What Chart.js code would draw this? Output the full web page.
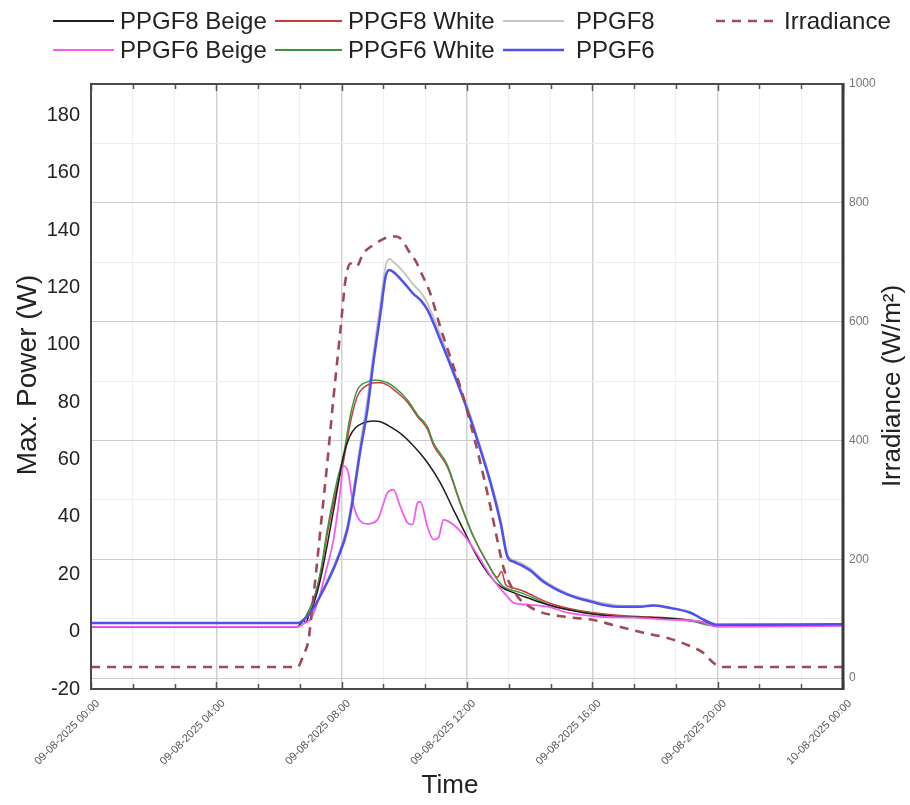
<!DOCTYPE html>
<html>
<head>
<meta charset="utf-8">
<title>Max. Power and Irradiance</title>
<script src="https://cdn.jsdelivr.net/npm/chart.js@4.4.1/dist/chart.umd.min.js"></script>
<style>
  html, body { margin: 0; padding: 0; background: #fff; }
  #wrap { position: relative; width: 910px; height: 805px; }
  #legend { position: absolute; left: 0; top: 0; width: 910px; height: 80px;
            font-family: "Liberation Sans", Arial, sans-serif; font-size: 24px; color: #222; }
  .item { position: absolute; height: 30px; display: flex; align-items: center; white-space: nowrap; }
  .item svg { display: block; }
  .item span { position: absolute; line-height: 30px; }
</style>
</head>
<body>
<div id="wrap">
  <canvas id="c" width="910" height="805"></canvas>
  <div id="legend"></div>
</div>
<script>
// ---- Time axis (hours from 09-08-2025 00:00) ----
const xTickLabels = ['09-08-2025 00:00', '09-08-2025 04:00', '09-08-2025 08:00', '09-08-2025 12:00',
                     '09-08-2025 16:00', '09-08-2025 20:00', '10-08-2025 00:00'];
const leftTicks = [-20, 0, 20, 40, 60, 80, 100, 120, 140, 160, 180];
const rightTicks = [0, 100, 200, 300, 400, 500, 600, 700, 800, 900, 1000];

// ---- PPGF8 Beige (W) ----
const hoursPPGF8Beige = [0, 6.59, 6.78, 6.86, 6.95, 7.1, 7.32, 7.54, 7.86, 8.05, 8.25, 8.44, 8.69, 9.01, 9.24, 9.56, 9.97,
  10.29, 10.74, 11.15, 11.57, 11.89, 12.33, 12.75, 13.07, 13.48, 13.93, 14.66, 15.72, 16.8, 17.86, 18.91, 19.67, 20.0, 24];
const ppgf8Beige = [1.7, 1.7, 4.2, 3.2, 5.6, 9.4, 18.1, 30.3, 49.5, 61, 67.9, 71.1, 72.8, 73.5, 73.2, 71.4, 68.3,
  64.8, 58.9, 51.9, 42.5, 35.5, 26.1, 19.2, 15.7, 13.6, 11.8, 9.1, 6.6, 5.2, 4.9, 4.2, 3.1, 2.1, 2.4];

// ---- PPGF8 White (W) ----
const hoursPPGF8White = [0, 6.59, 6.84, 7.1, 7.32, 7.54, 7.86, 8.05, 8.28, 8.5, 8.82, 9.08, 9.24, 9.46, 9.71, 10.1, 10.42,
  10.74, 10.93, 11.37, 11.79, 12.21, 12.65, 12.97, 13.1, 13.23, 13.39, 13.71, 14.12, 14.66, 15.21, 16.04, 16.9, 17.86,
  18.72, 19.23, 19.87, 24];
const ppgf8White = [1.7, 1.7, 5, 11, 20, 34, 51, 59, 73, 82, 86, 86.8, 86.8, 86, 84, 80, 75,
  70.5, 65, 57.5, 44.5, 33, 24, 19, 21, 16.5, 15.5, 14.5, 12.5, 9.8, 8.2, 6.6, 5.6, 5.1,
  4.5, 3.8, 2.2, 2.4];

// ---- PPGF8 (W) ----
const hoursPPGF8 = [0, 6.59, 7.0, 7.42, 7.86, 8.18, 8.37, 8.6, 8.82, 9.01, 9.24, 9.4, 9.52, 9.65, 9.97, 10.29, 10.51,
  10.74, 11.15, 11.57, 12.01, 12.43, 12.75, 13.07, 13.29, 13.48, 13.71, 14.02, 14.44, 15.21, 15.94, 16.8, 17.54, 17.95,
  18.4, 19.13, 19.55, 19.99, 24];
const ppgf8 = [3.0, 3.0, 6.8, 15, 26, 37, 49, 66, 81, 97, 115, 127.5, 130, 129, 125.5, 121, 118.5,
  114.5, 103.5, 91.5, 78.5, 64.5, 53, 39.5, 27, 25, 24, 22, 18, 13.4, 11, 9.2, 9, 9.3,
  8.6, 6.8, 4.4, 2.5, 2.7];

// ---- PPGF6 Beige (W) ----
const hoursPPGF6Beige = [0, 6.59, 6.84, 7.0, 7.26, 7.51, 7.74, 7.96, 8.05, 8.21, 8.34, 8.5, 8.82, 9.14, 9.46, 9.65, 9.87,
  10.1, 10.26, 10.42, 10.51, 10.74, 10.93, 11.09, 11.25, 11.57, 12.01, 12.43, 12.84, 13.29, 13.48, 13.93, 14.57, 15.21,
  16.26, 17.31, 18.4, 19.45, 19.99, 24];
const ppgf6Beige = [1.7, 1.7, 3.1, 4.2, 11.1, 21.6, 32.1, 49.5, 57.8, 55.4, 46, 40.1, 37.6, 39, 48.4, 49.5, 43.6,
  38, 37.3, 44.9, 45.3, 36.6, 32.1, 32.8, 39, 37.3, 32.1, 25.1, 18.1, 12.2, 10.1, 9.4, 8.7, 6.6,
  5.2, 4.9, 4.2, 3.5, 1.7, 2.0];

// ---- PPGF6 White (W) ----
const hoursPPGF6White = [0, 6.59, 6.84, 7.1, 7.32, 7.54, 7.86, 8.05, 8.28, 8.5, 8.82, 9.08, 9.24, 9.46, 9.71, 10.1, 10.42,
  10.74, 10.93, 11.37, 11.79, 12.21, 12.65, 12.97, 13.16, 13.39, 13.71, 14.12, 14.66, 15.21, 16.04, 16.9, 17.86, 18.72,
  19.23, 19.87, 24];
const ppgf6White = [1.7, 1.7, 4.9, 11.1, 20.6, 35.5, 53, 61, 75.6, 84.3, 87.1, 87.8, 87.5, 86.8, 85, 80.8, 75.6,
  71.4, 65.9, 58.2, 44.9, 33.1, 24, 18.1, 15.7, 14.6, 13.6, 11.8, 9.1, 7.7, 6.3, 5.2, 4.9, 4.2,
  3.5, 2.1, 2.3];

// ---- PPGF6 (W) ----
const hoursPPGF6 = [0, 6.59, 7.0, 7.42, 7.86, 8.18, 8.37, 8.6, 8.82, 9.01, 9.24, 9.4, 9.52, 9.65, 9.97, 10.29, 10.51,
  10.74, 11.15, 11.57, 12.01, 12.43, 12.75, 13.07, 13.29, 13.48, 13.71, 14.02, 14.44, 15.21, 15.94, 16.8, 17.54, 17.95,
  18.4, 19.13, 19.55, 19.99, 24];
const ppgf6 = [3.0, 3.0, 6.6, 14.6, 25.1, 35.5, 47, 63.4, 77.4, 93.7, 111.1, 123.7, 126.1, 125.4, 121.9, 117.8, 115.7,
  112.2, 101.7, 90.2, 77.4, 63.4, 51.9, 38, 26.1, 24.4, 23.3, 21.3, 17.4, 12.9, 10.5, 8.7, 8.7, 9.1,
  8.4, 6.6, 4.2, 2.4, 2.6];

// ---- Irradiance (W/m²) ----
const hoursIrradiance = [0, 6.59, 6.78, 6.94, 7.07, 7.19, 7.32, 7.54, 7.74, 7.96, 8.12, 8.28, 8.47, 8.69, 8.98, 9.24,
  9.56, 9.75, 9.94, 10.13, 10.35, 10.58, 10.83, 11.15, 11.47, 11.79, 12.11, 12.43, 12.75, 12.97, 13.16, 13.39, 13.71,
  14.02, 14.34, 15.21, 16.04, 16.67, 17.54, 18.4, 19.04, 19.55, 19.87, 20.09, 24];
const irradiance = [18.5, 18.5, 38.7, 63.9, 122.7, 181.6, 248.9, 361.5, 472.5, 585.2, 669.2, 697.8, 692.8, 714.7, 728, 736.5,
  743.2, 743.2, 736.5, 719.7, 702.9, 677.6, 647.4, 590.3, 539.8, 489.3, 428.8, 361.5, 287.5, 232, 186.6, 156.4, 131.2,
  119.4, 111, 102.6, 97.5, 89.1, 77.3, 67.3, 55.5, 42, 25.2, 18.5, 18.5];

const toPoints = (xs, ys) => xs.map((x, i) => ({ x: x, y: ys[i] }));

const series = [
  { label: 'PPGF8 Beige', xs: hoursPPGF8Beige, ys: ppgf8Beige, color: '#1e1e1e', width: 1.5, order: 3 },
  { label: 'PPGF8 White', xs: hoursPPGF8White, ys: ppgf8White, color: '#c83c3c', width: 1.5, order: 5 },
  { label: 'PPGF8',       xs: hoursPPGF8,      ys: ppgf8,      color: '#c4c4c4', width: 1.8, order: 6 },
  { label: 'Irradiance',  xs: hoursIrradiance, ys: irradiance, color: '#a04a58', width: 2.6, order: 0, dash: [9, 7], axis: 'y2' },
  { label: 'PPGF6 Beige', xs: hoursPPGF6Beige, ys: ppgf6Beige, color: '#f25cf2', width: 1.8, order: 2 },
  { label: 'PPGF6 White', xs: hoursPPGF6White, ys: ppgf6White, color: '#3f953f', width: 1.5, order: 4 },
  { label: 'PPGF6',       xs: hoursPPGF6,      ys: ppgf6,      color: '#4f4ff2', width: 2.5, order: 1 }
];

const datasets = series.map(s => ({
  label: s.label,
  data: toPoints(s.xs, s.ys),
  borderColor: s.color,
  backgroundColor: s.color,
  borderWidth: s.width,
  borderDash: s.dash || [],
  yAxisID: s.axis || 'y',
  order: s.order,
  pointRadius: 0,
  fill: false,
  cubicInterpolationMode: 'monotone'
}));

// Axis frame, inner tick marks and the three axis titles
const framePlugin = {
  id: 'frame',
  afterDraw(chart) {
    const { ctx, chartArea: a, scales } = chart;
    ctx.save();
    // inner tick marks on top and bottom edges
    ctx.strokeStyle = '#555';
    ctx.lineWidth = 1.5;
    scales.x.ticks.forEach((t, i) => {
      const px = Math.round(scales.x.getPixelForValue(t.value)) + 0.5;
      const len = i % 3 === 0 ? 7 : 5;
      ctx.beginPath();
      ctx.moveTo(px, a.top); ctx.lineTo(px, a.top + len);
      ctx.moveTo(px, a.bottom); ctx.lineTo(px, a.bottom - len);
      ctx.stroke();
    });
    // frame
    ctx.strokeStyle = '#4a4a4a';
    ctx.lineWidth = 2;
    ctx.beginPath();
    ctx.moveTo(a.right, a.top); ctx.lineTo(a.left, a.top);
    ctx.lineTo(a.left, a.bottom); ctx.lineTo(a.right, a.bottom);
    ctx.stroke();
    ctx.lineWidth = 3;
    ctx.strokeStyle = '#3a3a3a';
    ctx.beginPath();
    ctx.moveTo(a.right, a.top - 1); ctx.lineTo(a.right, a.bottom + 1);
    ctx.stroke();

    // titles
    ctx.fillStyle = '#222';
    ctx.textAlign = 'center';
    ctx.textBaseline = 'middle';
    ctx.save();
    ctx.font = '28px "Liberation Sans", Arial, sans-serif';
    ctx.translate(28, 375);
    ctx.rotate(-Math.PI / 2);
    ctx.fillText('Max. Power (W)', 0, 0);
    ctx.restore();
    ctx.save();
    ctx.font = '26px "Liberation Sans", Arial, sans-serif';
    ctx.translate(893, 386);
    ctx.rotate(-Math.PI / 2);
    ctx.fillText('Irradiance (W/m²)', 0, 0);
    ctx.restore();
    ctx.font = '26px "Liberation Sans", Arial, sans-serif';
    ctx.fillText('Time', 450, 786);
    ctx.restore();
  }
};

const chart = new Chart(document.getElementById('c'), {
  type: 'line',
  data: { datasets: datasets },
  options: {
    responsive: false,
    animation: false,
    layout: { padding: { top: 84, left: 0, right: 0, bottom: 0 } },
    plugins: { legend: { display: false }, tooltip: { enabled: false } },
    scales: {
      x: {
        type: 'linear', min: 0, max: 24,
        afterBuildTicks: s => { s.ticks = []; for (let i = 0; i <= 18; i++) s.ticks.push({ value: i * 4 / 3 }); },
        afterFit: s => { s.height = 116; },
        ticks: {
          autoSkip: false, minRotation: 45, maxRotation: 45, padding: 8, labelOffset: 7,
          color: '#555', font: { family: '"Liberation Sans", Arial, sans-serif', size: 11 },
          callback: (v, i) => (i % 3 === 0 ? xTickLabels[i / 3] : '')
        },
        grid: {
          drawTicks: false,
          color: c => (c.index % 3 === 0 ? '#d2d2d2' : '#efefef'),
          lineWidth: c => (c.index % 3 === 0 ? 1.5 : 1)
        },
        border: { display: false }
      },
      y: {
        position: 'left', min: -20, max: 191,
        afterBuildTicks: s => { s.ticks = leftTicks.map(v => ({ value: v })); },
        afterFit: s => { s.width = 91; },
        ticks: { color: '#222', padding: 11, font: { family: '"Liberation Sans", Arial, sans-serif', size: 20 } },
        grid: { display: false, drawTicks: false },
        border: { display: false }
      },
      y2: {
        position: 'right', min: -18.5, max: 1000,
        afterBuildTicks: s => { s.ticks = rightTicks.map(v => ({ value: v })); },
        afterFit: s => { s.width = 67; },
        ticks: {
          color: '#777', padding: 6, font: { family: '"Liberation Sans", Arial, sans-serif', size: 12 },
          callback: v => (v % 200 === 0 ? String(v) : '')
        },
        grid: {
          drawTicks: false,
          color: c => (c.tick && c.tick.value % 200 === 0 ? '#cdcdcd' : '#ededed'),
          lineWidth: 1
        },
        border: { display: false }
      }
    }
  },
  plugins: [framePlugin]
});

// Two-row legend built from the datasets
const legendCols = [
  { x: 53, w: 61, tx: 120 },
  { x: 275, w: 67, tx: 348 },
  { x: 503, w: 61, tx: 576 },
  { x: 716, w: 62, tx: 784 }
];
const legendRows = [[0, 1, 2, 3], [4, 5, 6]];
const rowCenters = [21, 50];
const legendEl = document.getElementById('legend');
legendRows.forEach((row, r) => {
  row.forEach((di, c) => {
    const s = series[di];
    const col = legendCols[c];
    const item = document.createElement('div');
    item.className = 'item';
    item.style.left = col.x + 'px';
    item.style.top = (rowCenters[r] - 15) + 'px';
    const svgNS = 'http://www.w3.org/2000/svg';
    const svg = document.createElementNS(svgNS, 'svg');
    svg.setAttribute('width', col.w);
    svg.setAttribute('height', 30);
    const line = document.createElementNS(svgNS, 'line');
    line.setAttribute('x1', 0); line.setAttribute('x2', col.w);
    line.setAttribute('y1', 15); line.setAttribute('y2', 15);
    line.setAttribute('stroke', s.color);
    line.setAttribute('stroke-width', Math.max(2, s.width));
    if (s.dash) line.setAttribute('stroke-dasharray', '9 7');
    svg.appendChild(line);
    item.appendChild(svg);
    const txt = document.createElement('span');
    txt.textContent = s.label;
    txt.style.left = (col.tx - col.x) + 'px';
    item.appendChild(txt);
    legendEl.appendChild(item);
  });
});
</script>
</body>
</html>
